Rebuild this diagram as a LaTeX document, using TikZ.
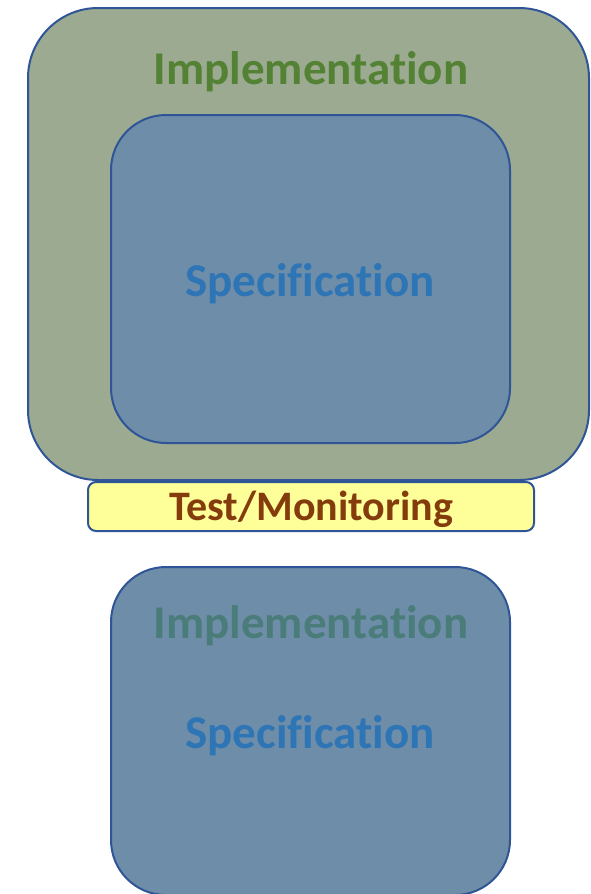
\documentclass[tikz,border=0pt]{standalone}
\usepackage{fontspec}
\setmainfont{Carlito}[Ligatures=NoCommon]
\usetikzlibrary{positioning}
\definecolor{implgreen}{RGB}{155,170,145}
\definecolor{specblue}{RGB}{110,141,169}
\definecolor{edgeblue}{RGB}{47,85,151}
\definecolor{impltext}{RGB}{84,130,53}
\definecolor{spectext}{RGB}{46,117,182}
\definecolor{testfill}{RGB}{255,255,153}
\definecolor{testtext}{RGB}{132,60,12}
\definecolor{mixtext}{RGB}{74,125,122}

\tikzset{
  layer/.style={draw=edgeblue, line width=2pt, rounded corners=#1},
  biglabel/.style={anchor=base, font=\fontsize{47}{56}\selectfont\bfseries},
}

\begin{document}
\begin{tikzpicture}[x=1pt, y=-1pt]
\useasboundingbox (0,0) rectangle (590,894);

% upper picture: specification nested in implementation
\node[layer=70pt, fill=implgreen, minimum width=561pt, minimum height=472pt] (impl) at (308.5,244) {};
\node[layer=55pt, fill=specblue, minimum width=399pt, minimum height=328pt] (spec) at (310.5,279) {};
\node[layer=8pt, fill=testfill, minimum width=446pt, minimum height=49pt] (test) at (311,506.5) {};

\node[biglabel, text=impltext] (impllabel) at (311,84) {Implementation};
\node[biglabel, text=spectext] (speclabel) at (310,296) {Specification};
\node[anchor=base, text=testtext, font=\fontsize{42}{50}\selectfont\bfseries] (testlabel) at (311,520) {Test/Monitoring};

% lower picture: both in one box
\node[layer=55pt, fill=specblue, minimum width=399pt, minimum height=328pt] (both) at (310.5,731) {};
\node[biglabel, text=mixtext] (bothimpl) at (311,638) {Implementation};
\node[biglabel, text=spectext] (bothspec) at (310,748) {Specification};
\end{tikzpicture}
\end{document}
